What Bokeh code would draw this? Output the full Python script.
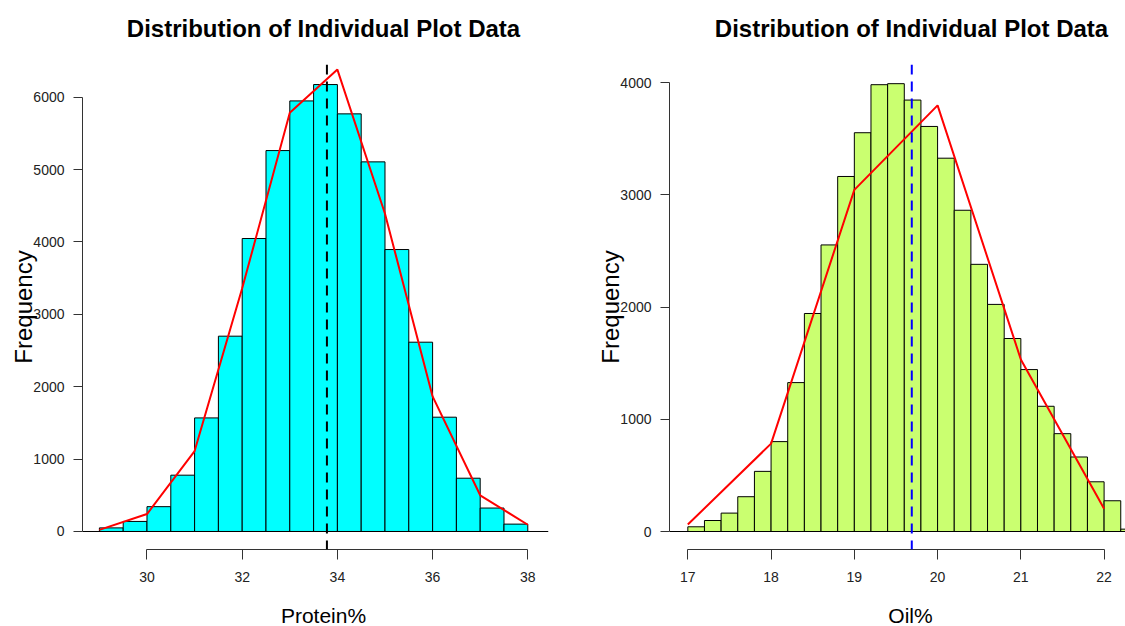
from bokeh.plotting import figure
from bokeh.layouts import row, column
from bokeh.models import Range1d, FixedTicker, Span
from bokeh.core.properties import value
from bokeh.embed import file_html
from bokeh.resources import INLINE

# ---------------- data ----------------
title_text = "Distribution of Individual Plot Data"

protein_edges = [29.0, 29.5, 30.0, 30.5, 31.0, 31.5, 32.0, 32.5, 33.0, 33.5,
                 34.0, 34.5, 35.0, 35.5, 36.0, 36.5, 37.0, 37.5, 38.0]
protein_counts = [50, 139, 343, 778, 1569, 2698, 4047, 5262, 5948, 6174,
                  5769, 5106, 3895, 2615, 1579, 736, 324, 102]
protein_poly_x = [29, 30, 31, 32, 33, 34, 35, 36, 37, 38]
protein_poly_y = [23, 241, 1111, 3360, 5783, 6381, 4390, 1866, 500, 93]
protein_mean = 33.78
protein_xticks = [30, 32, 34, 36, 38]
protein_yticks = [0, 1000, 2000, 3000, 4000, 5000, 6000]

oil_edges = [17.0, 17.2, 17.4, 17.6, 17.8, 18.0, 18.2, 18.4, 18.6, 18.8, 19.0,
             19.2, 19.4, 19.6, 19.8, 20.0, 20.2, 20.4, 20.6, 20.8, 21.0, 21.2,
             21.4, 21.6, 21.8, 22.0, 22.2, 22.4]
oil_counts = [42, 98, 164, 310, 536, 801, 1327, 1943, 2554, 3164, 3554, 3982,
              3991, 3845, 3610, 3327, 2863, 2381, 2024, 1720, 1443, 1116, 872,
              664, 443, 274, 21]
oil_poly_x = [17, 18, 19, 20, 21, 22]
oil_poly_y = [62, 783, 3045, 3798, 1533, 202]
oil_mean = 19.69
oil_xticks = [17, 18, 19, 20, 21, 22]
oil_yticks = [0, 1000, 2000, 3000, 4000]

FONT = "Liberation Sans"

# ---------------- layout geometry (pixels) ----------------
W1, W2 = 594, 531
TOP_H, MAIN_H, BOT_H = 64, 525, 37


def text_strip(width, height, txt, cx, cy, size, style):
    """A blank strip (no axes) holding a single centred text, pixel coords."""
    s = figure(width=width, height=height, output_backend="svg",
               toolbar_location=None, x_range=Range1d(0, width),
               y_range=Range1d(height, 0), x_axis_location=None,
               y_axis_location=None, min_border=0)
    s.outline_line_color = None
    s.grid.visible = False
    s.text(x=[cx], y=[cy], text=[txt], text_font=value(FONT),
           text_font_size=size, text_font_style=style, text_align="center",
           text_baseline="middle", text_color="black")
    return s


def make_panel(width, border_left, border_right, xr, yr, edges, counts,
               poly_x, poly_y, mean, mean_color, fill, xticks, yticks):
    p = figure(width=width, height=MAIN_H, output_backend="svg",
               toolbar_location=None, x_range=Range1d(*xr), y_range=Range1d(*yr),
               min_border_left=border_left, min_border_right=border_right,
               min_border_top=0, min_border_bottom=40)
    p.outline_line_color = None
    p.grid.visible = False
    p.background_fill_color = "white"
    p.border_fill_color = "white"

    p.quad(left=edges[:-1], right=edges[1:], top=counts, bottom=0,
           fill_color=fill, line_color="black", line_width=1)
    p.add_layout(Span(location=0, dimension="width", line_color="black",
                      line_width=1))
    p.line(poly_x, poly_y, line_color="red", line_width=2)
    p.add_layout(Span(location=mean, dimension="height", line_color=mean_color,
                      line_width=2, line_dash="10 7"))

    xa = p.xaxis[0]
    xa.ticker = FixedTicker(ticks=xticks)
    xa.bounds = (xticks[0], xticks[-1])
    xa.major_tick_out = 10
    xa.major_tick_in = 0
    xa.minor_tick_line_color = None
    xa.axis_line_color = "#333333"
    xa.major_tick_line_color = "#333333"
    xa.major_label_text_font = FONT
    xa.major_label_text_font_size = "14px"
    xa.major_label_text_color = "#222222"
    xa.major_label_standoff = 12

    ya = p.yaxis[0]
    ya.ticker = FixedTicker(ticks=yticks)
    ya.bounds = (yticks[0], yticks[-1])
    ya.major_tick_out = 9
    ya.major_tick_in = 0
    ya.minor_tick_line_color = None
    ya.axis_line_color = "#333333"
    ya.major_tick_line_color = "#333333"
    ya.major_label_text_font = FONT
    ya.major_label_text_font_size = "14px"
    ya.major_label_text_color = "#222222"
    ya.major_label_standoff = 9
    ya.major_label_orientation = "horizontal"
    ya.axis_label = "Frequency"
    ya.axis_label_text_font = FONT
    ya.axis_label_text_font_size = "24px"
    ya.axis_label_text_font_style = "normal"
    ya.axis_label_text_color = "black"
    ya.axis_label_standoff = -7
    return p


p1 = make_panel(W1, 82, 46, (28.645, 38.435), (-248.7, 6451),
                protein_edges, protein_counts, protein_poly_x, protein_poly_y,
                protein_mean, "black", "#00FFFF", protein_xticks,
                protein_yticks)

p2 = make_panel(W2, 75, 0, (16.780, 22.257), (-160.4, 4162),
                oil_edges, oil_counts, oil_poly_x, oil_poly_y,
                oil_mean, "blue", "#CAFF70", oil_xticks, oil_yticks)

t1 = text_strip(W1, TOP_H, title_text, 323, 28, "24px", "bold")
t2 = text_strip(W2, TOP_H, title_text, 317, 28, "24px", "bold")
l1 = text_strip(W1, BOT_H, "Protein%", 323, 26, "21px", "normal")
l2 = text_strip(W2, BOT_H, "Oil%", 316, 26, "21px", "normal")

layout = column(row(t1, t2), row(p1, p2), row(l1, l2))
open("out.html", "w").write(file_html(layout, INLINE))
